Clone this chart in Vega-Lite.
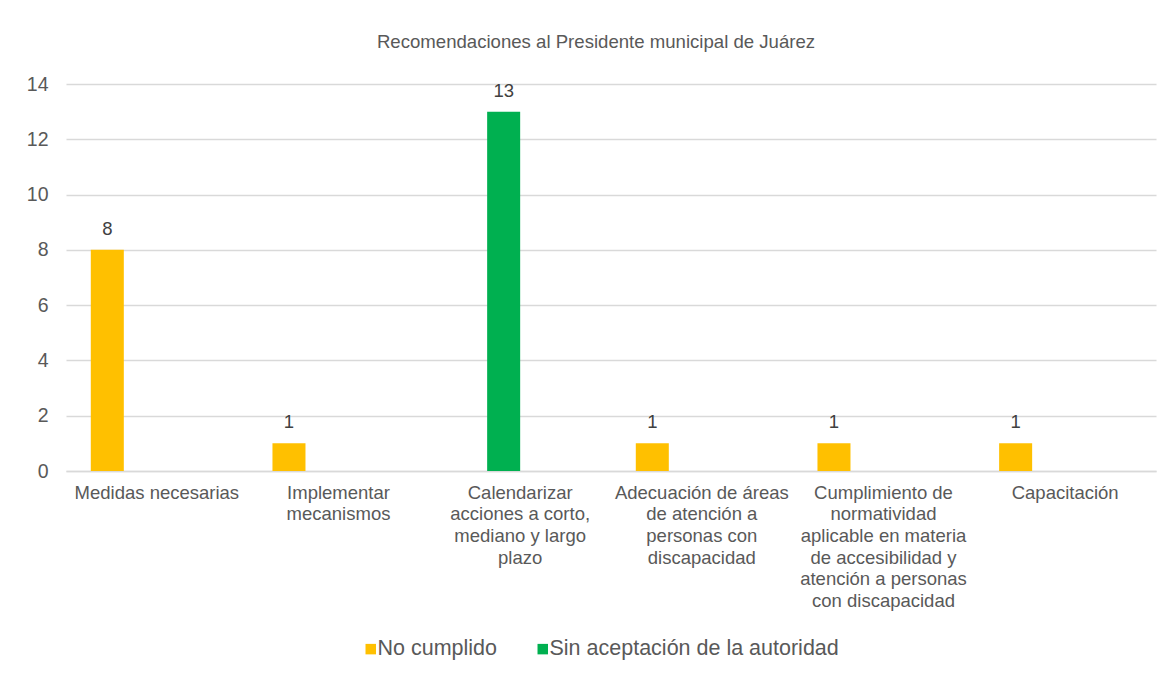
{
  "$schema": "https://vega.github.io/schema/vega-lite/v6.json",
  "width": 1090,
  "height": 387,
  "autosize": {"type": "none"},
  "padding": {"left": 66, "top": 84, "right": 19, "bottom": 206},
  "background": "white",
  "title": {
    "text": "Recomendaciones al Presidente municipal de Juárez",
    "anchor": "middle",
    "frame": "group",
    "dx": -15,
    "offset": 22,
    "font": "Liberation Sans",
    "fontSize": 18.6,
    "fontWeight": "normal",
    "color": "#595959"
  },
  "data": {
    "values": [
      {"categoria": "Medidas necesarias", "serie": "No cumplido", "valor": 8},
      {"categoria": "Implementar mecanismos", "serie": "No cumplido", "valor": 1},
      {"categoria": "Calendarizar acciones a corto, mediano y largo plazo", "serie": "Sin aceptación de la autoridad", "valor": 13},
      {"categoria": "Adecuación de áreas de atención a personas con discapacidad", "serie": "No cumplido", "valor": 1},
      {"categoria": "Cumplimiento de normatividad aplicable en materia de accesibilidad y atención a personas con discapacidad", "serie": "No cumplido", "valor": 1},
      {"categoria": "Capacitación", "serie": "No cumplido", "valor": 1}
    ]
  },
  "encoding": {
    "x": {
      "field": "categoria",
      "type": "nominal",
      "sort": null,
      "scale": {"paddingInner": 0.273, "paddingOuter": 0.1365},
      "axis": {
        "title": null,
        "labelAngle": 0,
        "ticks": false,
        "domain": true,
        "domainColor": "#D9D9D9",
        "domainWidth": 1.3,
        "labelFont": "Liberation Sans",
        "labelFontSize": 18.5,
        "labelColor": "#595959",
        "labelLineHeight": 21.7,
        "labelPadding": 12,
        "labelLimit": 0,
        "labelExpr": "{'Medidas necesarias': ['Medidas necesarias'], 'Implementar mecanismos': ['Implementar', 'mecanismos'], 'Calendarizar acciones a corto, mediano y largo plazo': ['Calendarizar', 'acciones a corto,', 'mediano y largo', 'plazo'], 'Adecuación de áreas de atención a personas con discapacidad': ['Adecuación de áreas', 'de atención a', 'personas con', 'discapacidad'], 'Cumplimiento de normatividad aplicable en materia de accesibilidad y atención a personas con discapacidad': ['Cumplimiento de', 'normatividad', 'aplicable en materia', 'de accesibilidad y', 'atención a personas', 'con discapacidad'], 'Capacitación': ['Capacitación']}[datum.value]"
      }
    },
    "xOffset": {
      "field": "serie",
      "type": "nominal",
      "scale": {"domain": ["No cumplido", "Sin aceptación de la autoridad", "s3", "s4"], "paddingInner": 0, "paddingOuter": 0}
    },
    "y": {
      "field": "valor",
      "type": "quantitative",
      "scale": {"domain": [0, 14], "nice": false},
      "axis": {
        "title": null,
        "values": [0, 2, 4, 6, 8, 10, 12, 14],
        "ticks": false,
        "domain": false,
        "grid": true,
        "gridColor": "#D9D9D9",
        "gridWidth": 1.3,
        "labelFont": "Liberation Sans",
        "labelFontSize": 19.5,
        "labelColor": "#595959",
        "labelPadding": 18
      }
    }
  },
  "layer": [
    {
      "mark": {"type": "bar"},
      "encoding": {
        "color": {
          "field": "serie",
          "type": "nominal",
          "scale": {"domain": ["No cumplido", "Sin aceptación de la autoridad"], "range": ["#FFC000", "#00B050"]},
          "legend": {
            "title": null,
            "orient": "none",
            "legendX": 294,
            "legendY": 554,
            "direction": "horizontal",
            "symbolType": "square",
            "symbolSize": 110,
            "symbolStrokeWidth": 0,
            "labelFont": "Liberation Sans",
            "labelFontSize": 21.5,
            "labelColor": "#595959",
            "labelOffset": -4,
            "labelLimit": 0,
            "columnPadding": 35
          }
        }
      }
    },
    {
      "mark": {"type": "text", "baseline": "alphabetic", "dy": -15, "font": "Liberation Sans", "fontSize": 18.5, "color": "#404040"},
      "encoding": {
        "text": {"field": "valor", "type": "quantitative"}
      }
    }
  ],
  "config": {
    "view": {"stroke": null}
  }
}
